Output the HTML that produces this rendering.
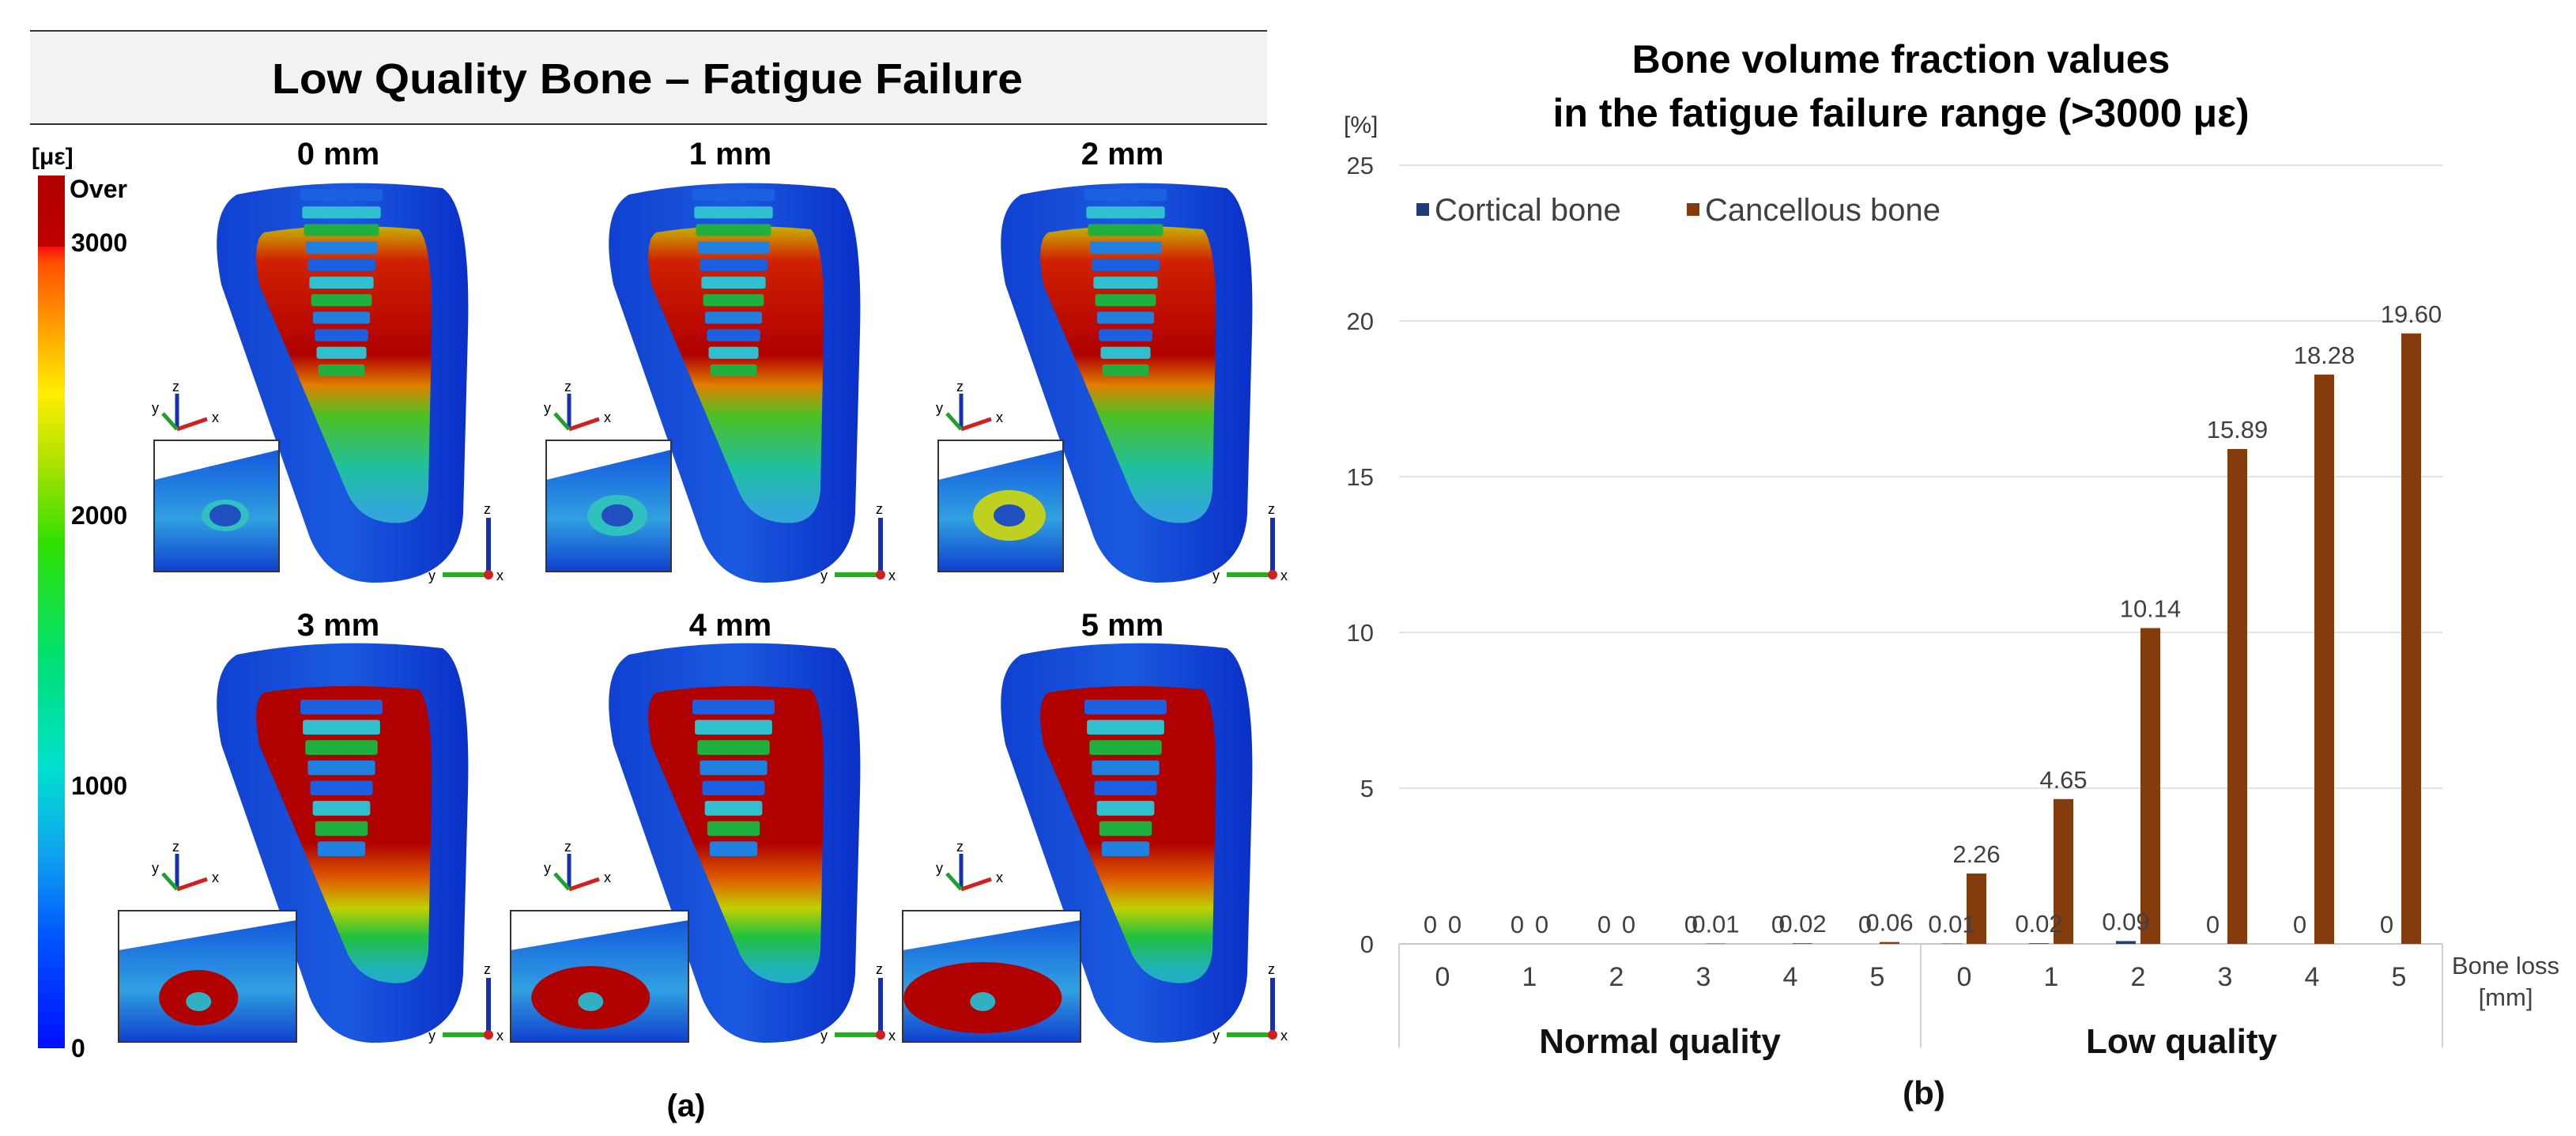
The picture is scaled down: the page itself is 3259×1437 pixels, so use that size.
<!DOCTYPE html>
<html><head><meta charset="utf-8"><style>
html,body{margin:0;padding:0;background:#fff;}
svg{display:block;font-family:"Liberation Sans",Arial,sans-serif;}
</style></head><body>
<svg id="root" width="3259" height="1437" viewBox="0 0 3259 1437" xmlns="http://www.w3.org/2000/svg">
<defs>
<linearGradient id="cbar" x1="0" y1="1" x2="0" y2="0">
<stop offset="0" stop-color="#0010ff"/><stop offset="0.12" stop-color="#0050ff"/><stop offset="0.22" stop-color="#10a0f0"/>
<stop offset="0.32" stop-color="#00e0d0"/><stop offset="0.45" stop-color="#00e070"/><stop offset="0.58" stop-color="#30e000"/>
<stop offset="0.66" stop-color="#a0e000"/><stop offset="0.75" stop-color="#ffee00"/><stop offset="0.83" stop-color="#ff9a00"/>
<stop offset="0.9" stop-color="#ff5000"/><stop offset="0.918" stop-color="#ff1010"/><stop offset="0.919" stop-color="#c00000"/><stop offset="1" stop-color="#b00000"/>
</linearGradient>
<linearGradient id="innerA" gradientUnits="userSpaceOnUse" x1="0" y1="287" x2="0" y2="646">
<stop offset="0" stop-color="#c8b000"/><stop offset="0.12" stop-color="#d02000"/><stop offset="0.45" stop-color="#b00000"/>
<stop offset="0.56" stop-color="#e08000"/><stop offset="0.66" stop-color="#50c020"/><stop offset="0.85" stop-color="#20c0a0"/><stop offset="1" stop-color="#30a8d8"/>
</linearGradient>
<linearGradient id="innerB" gradientUnits="userSpaceOnUse" x1="0" y1="287" x2="0" y2="646">
<stop offset="0" stop-color="#b00000"/><stop offset="0.55" stop-color="#b00000"/><stop offset="0.68" stop-color="#e06000"/>
<stop offset="0.78" stop-color="#c0d000"/><stop offset="0.88" stop-color="#20c040"/><stop offset="1" stop-color="#20b0c0"/>
</linearGradient>
<linearGradient id="outerG" x1="0" y1="0" x2="1" y2="0">
<stop offset="0" stop-color="#1040d0"/><stop offset="0.5" stop-color="#1a5ae0"/><stop offset="1" stop-color="#0a30c8"/>
</linearGradient>
<linearGradient id="insetG" x1="0" y1="0" x2="0" y2="1">
<stop offset="0" stop-color="#1050e0"/><stop offset="0.6" stop-color="#30a0e0"/><stop offset="1" stop-color="#1040d0"/>
</linearGradient>
</defs>

<!-- Left panel header -->
<rect x="38" y="39" width="1565" height="118" fill="#f2f2f2"/>
<line x1="38" y1="39" x2="1603" y2="39" stroke="#333" stroke-width="2"/>
<line x1="38" y1="157" x2="1603" y2="157" stroke="#333" stroke-width="2"/>
<text x="819" y="118" text-anchor="middle" font-size="54" font-weight="bold" textLength="950" lengthAdjust="spacingAndGlyphs">Low Quality Bone – Fatigue Failure</text>

<!-- colorbar -->
<rect x="48" y="222" width="34" height="1104" fill="url(#cbar)"/>
<text x="40" y="208" font-size="30" font-weight="bold">[με]</text>
<g font-size="32" font-weight="bold">
<text x="88" y="250">Over</text><text x="90" y="318">3000</text><text x="90" y="663">2000</text><text x="90" y="1005">1000</text><text x="90" y="1337">0</text>
</g>
<g id="panels"></g>
<text x="868" y="1412" text-anchor="middle" font-size="40" font-weight="bold">(a)</text>

<!-- Chart -->
<g id="chart"></g>
</svg>
<script>
// ---------- chart data ----------
const categories = ["0","1","2","3","4","5","0","1","2","3","4","5"];
const groups = ["Normal quality","Low quality"];
const cortical = [0,0,0,0,0,0,0.01,0.02,0.09,0,0,0];
const cancellous = [0,0,0,0.01,0.02,0.06,2.26,4.65,10.14,15.89,18.28,19.60];
const yTicks = [0,5,10,15,20,25];

const NS="http://www.w3.org/2000/svg";
function mk(tag,attrs,parent){const e=document.createElementNS(NS,tag);for(const k in attrs)e.setAttribute(k,attrs[k]);parent.appendChild(e);return e;}
const chart=document.getElementById('chart');
const L=1770,R=3090,Y0=1194,PX=39.4;
const bw=(R-L)/categories.length;
const yS=v=>Y0-v*PX;
const xC=i=>L+bw*(i+0.5);
const fmt=v=>v===0?"0":v.toFixed(2);

let t=mk('text',{x:2405,y:92,'text-anchor':'middle','font-size':50,'font-weight':'bold'},chart);
t.textContent="Bone volume fraction values";


t=mk('text',{x:2405,y:160,'text-anchor':'middle','font-size':50,'font-weight':'bold'},chart);
t.textContent="in the fatigue failure range (>3000 με)";


t=mk('text',{x:1700,y:168,'font-size':30,fill:'#333'},chart);
t.textContent="[%]";



yTicks.forEach(v=>{
  const g=mk('line',{x1:L,x2:R,y1:yS(v),y2:yS(v),stroke:v===0?'#c8c8c8':'#e2e2e2','stroke-width':2},chart);
  
  
  const tl=mk('text',{x:1738,y:yS(v)+11,'text-anchor':'end','font-size':31,fill:'#404040'},chart);
  tl.textContent=String(v);
  
  
});

// legend
let r=mk('rect',{x:1792,y:257,width:16,height:16,fill:'#1f3d7a'},chart);


t=mk('text',{x:1815,y:279,'font-size':40,fill:'#404040'},chart);t.textContent="Cortical bone";


r=mk('rect',{x:2134,y:257,width:16,height:16,fill:'#843c0c'},chart);


t=mk('text',{x:2157,y:279,'font-size':40,fill:'#404040'},chart);t.textContent="Cancellous bone";



categories.forEach((c,i)=>{
  const cx=xC(i);
  const v1=cortical[i],v2=cancellous[i];
  const b1=mk('rect',{x:cx-28,y:yS(v1),width:25,height:Math.max(v1*PX,0),fill:'#1f3d7a'},chart);
  
  
  const b2=mk('rect',{x:cx+3,y:yS(v2),width:25,height:Math.max(v2*PX,0),fill:'#843c0c'},chart);
  
  
  const l1=mk('text',{x:cx-15.5,y:yS(v1)-14,'text-anchor':'middle','font-size':31,fill:'#404040'},chart);
  l1.textContent=fmt(v1);
  
  
  const l2=mk('text',{x:cx+15.5,y:yS(v2)-14,'text-anchor':'middle','font-size':31,fill:'#404040'},chart);
  l2.textContent=fmt(v2);
  
  
  const ct=mk('text',{x:cx,y:1247,'text-anchor':'middle','font-size':34,fill:'#404040'},chart);
  ct.textContent=c;
  
  
});
// group separators and labels
[0,6,12].forEach(k=>{
  const ln=mk('line',{x1:L+bw*k,x2:L+bw*k,y1:Y0,y2:1325,stroke:'#d0d0d0','stroke-width':2},chart);
  
  
});
groups.forEach((g,j)=>{
  const gt=mk('text',{x:L+bw*(j*6+3),y:1332,'text-anchor':'middle','font-size':44,'font-weight':'bold',fill:'#111'},chart);
  gt.textContent=g;
  
  
});
t=mk('text',{x:3170,y:1232,'text-anchor':'middle','font-size':31,fill:'#404040'},chart);t.textContent="Bone loss";


t=mk('text',{x:3170,y:1272,'text-anchor':'middle','font-size':31,fill:'#404040'},chart);t.textContent="[mm]";


t=mk('text',{x:2434,y:1397,'text-anchor':'middle','font-size':42,'font-weight':'bold',fill:'#111'},chart);t.textContent="(b)";



// ---------- FEA panels (illustrative) ----------
const panels=document.getElementById('panels');
const titles=["0 mm","1 mm","2 mm","3 mm","4 mm","5 mm"];
titles.forEach((tt,i)=>{
  const col=i%3,row=Math.floor(i/3);
  const dx=col*496,dy=row*582;
  const g=mk('g',{transform:`translate(${dx},${dy})`},panels);
  
  
  const ttl=mk('text',{x:428,y:208+row*14,'text-anchor':'middle','font-size':40,'font-weight':'bold'},g);
  ttl.textContent=tt;
  
  
  // outer bone
  const outer=mk('path',{d:"M300,246 Q420,222 560,238 Q596,262 592,420 L586,650 Q580,738 470,737 Q415,735 392,680 L280,360 Q262,268 300,246 Z",fill:'url(#outerG)'},g);
  
  
  const inner=mk('path',{d:"M334,294 Q420,280 530,290 Q548,310 546,420 L542,620 Q538,670 485,660 Q455,655 440,625 L328,360 Q318,305 334,294 Z",fill:row===0?'url(#innerA)':'url(#innerB)'},g);
  
  
  // implant
  const imp=mk('g',{},g);
  
  
  const top=row===0?236:300, bot=row===0?480:505, n=row===0?11:8;
  const cols=['#1a60e0','#30c0d0','#20b040','#2080e0'];
  for(let k=0;k<n;k++){
    const y=top+k*(bot-top)/n, f=k/n;
    const w=104-50*f, x0=380+25*f;
    mk('rect',{x:x0,y:y+3,width:w,height:(bot-top)/n-7,fill:cols[k%4],rx:3},imp);
  }
  // top-left triad
  const tr=mk('g',{stroke:'none'},g);
  
  
  mk('line',{x1:224,y1:543,x2:224,y2:498,stroke:'#1530b0','stroke-width':5},tr);
  mk('line',{x1:224,y1:543,x2:262,y2:530,stroke:'#d02020','stroke-width':5},tr);
  mk('line',{x1:224,y1:543,x2:206,y2:523,stroke:'#20a030','stroke-width':5},tr);
  const zt=mk('text',{x:218,y:495,'font-size':18},tr);zt.textContent='z';
  const xt=mk('text',{x:268,y:534,'font-size':18},tr);xt.textContent='x';
  const yt=mk('text',{x:192,y:522,'font-size':18},tr);yt.textContent='y';
  // inset
  const ins=mk('g',{},g);
  
  
  const ix=row===0?195:150, iw=row===0?158:225, iy=row===0?557:570, ih=166;
  mk('rect',{x:ix,y:iy,width:iw,height:ih,fill:'url(#insetG)'},ins);
  mk('polygon',{points:`${ix},${iy} ${ix+iw},${iy} ${ix+iw},${iy+12} ${ix},${iy+50}`,fill:'#fff'},ins);
  mk('rect',{x:ix,y:iy,width:iw,height:ih,fill:'none',stroke:'#333','stroke-width':2},ins);
  if(row===0){
    mk('ellipse',{cx:ix+90,cy:iy+95,rx:30+col*8,ry:20+col*6,fill:col===2?'#c0d020':'#30c0c0'},ins);
    mk('ellipse',{cx:ix+90,cy:iy+95,rx:20,ry:14,fill:'#2050c0'},ins);
  } else {
    mk('ellipse',{cx:ix+iw*0.45,cy:iy+110,rx:50+col*25,ry:35+col*5,fill:'#b00000'},ins);
    mk('ellipse',{cx:ix+iw*0.45,cy:iy+115,rx:16,ry:12,fill:'#30b0c0'},ins);
  }
  // bottom-right triad
  const tr2=mk('g',{},g);
  
  
  mk('line',{x1:618,y1:727,x2:618,y2:655,stroke:'#1530b0','stroke-width':6},tr2);
  mk('line',{x1:618,y1:727,x2:560,y2:727,stroke:'#20b020','stroke-width':6},tr2);
  mk('circle',{cx:618,cy:727,r:6,fill:'#d02020'},tr2);
  const z2=mk('text',{x:612,y:650,'font-size':18},tr2);z2.textContent='z';
  const y2=mk('text',{x:542,y:734,'font-size':18},tr2);y2.textContent='y';
  const x2=mk('text',{x:628,y:734,'font-size':18},tr2);x2.textContent='x';
});
</script>
</body></html>
